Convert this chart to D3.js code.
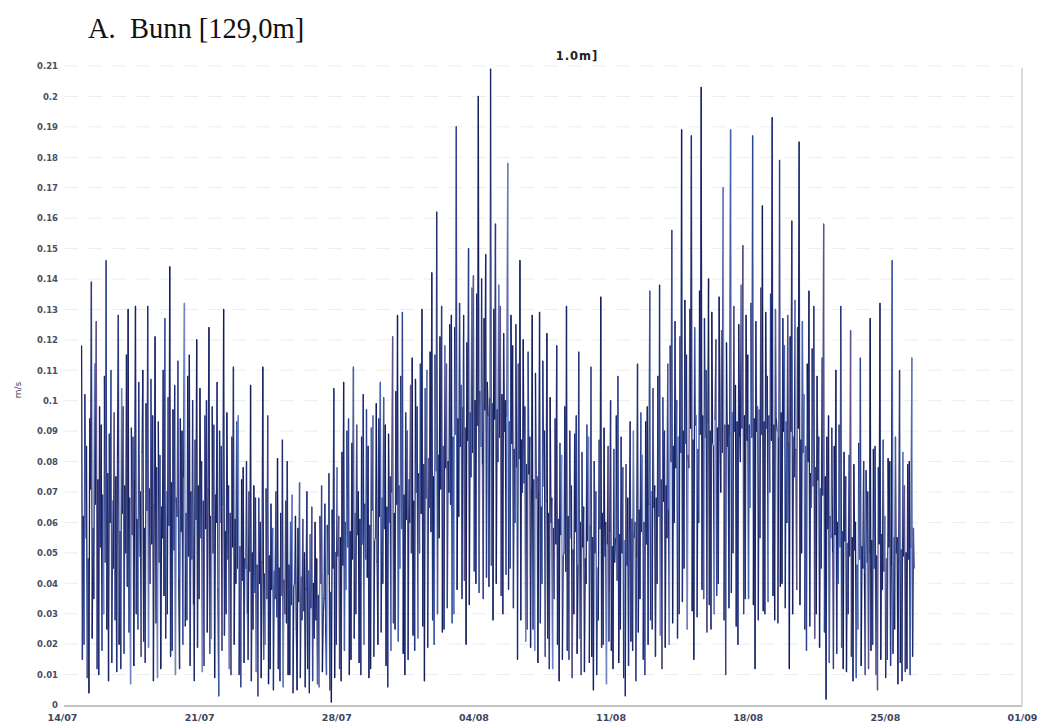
<!DOCTYPE html>
<html>
<head>
<meta charset="utf-8">
<script src="https://cdn.jsdelivr.net/npm/d3@7"></script>
<style>
  html, body { margin: 0; padding: 0; background: #ffffff; }
  svg { display: block; }
</style>
</head>
<body>
<svg id="chart" width="1037" height="723"></svg>
<script>
// ---------------- data ----------------
const chartTitle = "A.  Bunn [129,0m]";
const subTitle = "1.0m]";
const yAxisLabel = "m/s";
const xTickDates = ["2010-07-14","2010-07-21","2010-07-28","2010-08-04","2010-08-11","2010-08-18","2010-08-25","2010-09-01"];
const xTickLabels = ["14/07","21/07","28/07","04/08","11/08","18/08","25/08","01/09"];
const yTickValues = [0,0.01,0.02,0.03,0.04,0.05,0.06,0.07,0.08,0.09,0.1,0.11,0.12,0.13,0.14,0.15,0.16,0.17,0.18,0.19,0.2,0.21];
const yTickLabels = ["0","0.01","0.02","0.03","0.04","0.05","0.06","0.07","0.08","0.09","0.1","0.11","0.12","0.13","0.14","0.15","0.16","0.17","0.18","0.19","0.2","0.21"];
const seriesStart = "2010-07-15T00:00:00";
const stepMinutes = 60;
// current speed (m/s), hourly, 24 values per day
const speedValues = [
  .118,.015,.062,.020,.102,.055,.085,.009,.048,.004,.094,.071,.139,.022,.058,.035,.112,.066,.126,.012,.074,.010,.098,.052, // 15/07
  .092,.018,.069,.030,.108,.047,.146,.025,.076,.008,.089,.060,.110,.014,.067,.045,.096,.028,.075,.011,.082,.128,.020,.057, // 16/07
  .012,.104,.063,.098,.017,.072,.050,.115,.039,.130,.024,.068,.007,.091,.056,.088,.013,.074,.131,.030,.061,.025,.106,.049, // 17/07
  .070,.016,.083,.110,.021,.058,.014,.099,.064,.131,.019,.071,.040,.107,.053,.095,.008,.066,.121,.027,.078,.009,.093,.047, // 18/07
  .082,.012,.065,.055,.110,.036,.127,.022,.070,.030,.101,.059,.144,.016,.073,.018,.097,.051,.105,.010,.068,.062,.113,.041, // 19/07
  .012,.094,.057,.090,.020,.075,.132,.026,.063,.028,.108,.049,.115,.013,.070,.048,.100,.033,.008,.087,.061,.120,.019,.072, // 20/07
  .035,.104,.055,.080,.011,.067,.013,.095,.058,.100,.024,.071,.124,.017,.062,.022,.098,.050,.092,.009,.069,.060,.106,.038, // 21/07
  .003,.090,.060,.085,.018,.066,.130,.023,.057,.030,.096,.048,.072,.012,.063,.010,.088,.052,.111,.020,.061,.040,.093,.045, // 22/07
  .095,.010,.052,.006,.074,.041,.078,.014,.048,.045,.080,.030,.015,.070,.044,.105,.008,.050,.025,.072,.037,.068,.011,.046, // 23/07
  .003,.068,.040,.060,.009,.047,.111,.015,.043,.020,.071,.035,.095,.007,.049,.012,.066,.038,.058,.005,.044,.035,.070,.029, // 24/07
  .081,.012,.045,.008,.063,.036,.087,.006,.041,.030,.067,.027,.080,.010,.046,.010,.060,.033,.069,.004,.039,.040,.062,.025, // 25/07
  .005,.058,.034,.073,.009,.042,.028,.061,.031,.050,.006,.038,.070,.012,.044,.004,.056,.032,.065,.008,.040,.022,.060,.028, // 26/07
  .048,.007,.036,.006,.062,.040,.072,.011,.030,.035,.066,.026,.010,.059,.043,.076,.005,.037,.001,.064,.045,.104,.009,.050, // 27/07
  .020,.078,.049,.062,.012,.055,.008,.083,.046,.106,.018,.060,.038,.090,.052,.094,.010,.057,.015,.086,.048,.111,.022,.063, // 28/07
  .030,.092,.056,.070,.014,.061,.010,.088,.053,.102,.020,.066,.048,.097,.042,.085,.009,.059,.012,.091,.064,.095,.016,.054, // 29/07
  .055,.099,.047,.020,.094,.062,.106,.024,.068,.040,.101,.058,.092,.013,.065,.006,.089,.060,.075,.018,.070,.121,.027,.063, // 30/07
  .025,.103,.066,.128,.021,.072,.045,.108,.058,.129,.017,.069,.010,.096,.061,.090,.015,.074,.060,.105,.050,.114,.023,.067, // 31/07
  .018,.107,.070,.098,.022,.076,.050,.112,.063,.130,.026,.079,.008,.104,.068,.110,.019,.081,.065,.116,.057,.142,.028,.075, // 01/08
  .020,.115,.077,.162,.030,.082,.055,.121,.071,.131,.024,.085,.025,.118,.078,.112,.032,.080,.070,.125,.066,.128,.027,.088, // 02/08
  .030,.124,.089,.190,.038,.094,.062,.132,.085,.105,.035,.098,.128,.041,.091,.020,.119,.087,.150,.033,.096,.075,.137,.083, // 03/08
  .141,.044,.100,.040,.135,.092,.200,.037,.103,.085,.140,.079,.035,.127,.097,.148,.042,.106,.095,.039,.101,.209,.046,.099, // 04/08
  .028,.130,.094,.158,.040,.097,.080,.138,.088,.131,.036,.102,.030,.122,.090,.100,.043,.095,.178,.038,.093,.045,.128,.086, // 05/08
  .118,.032,.084,.060,.125,.078,.015,.112,.081,.146,.028,.087,.070,.120,.073,.098,.021,.079,.025,.116,.076,.088,.019,.071, // 06/08
  .128,.025,.074,.018,.109,.068,.075,.014,.070,.129,.027,.065,.040,.113,.072,.090,.016,.067,.122,.022,.063,.012,.101,.060, // 07/08
  .068,.012,.058,.035,.094,.053,.118,.020,.061,.008,.086,.056,.082,.015,.049,.050,.098,.044,.131,.018,.062,.015,.090,.055, // 08/08
  .072,.009,.051,.030,.089,.057,.095,.017,.046,.116,.022,.060,.010,.083,.052,.065,.011,.048,.040,.092,.054,.088,.014,.059, // 09/08
  .111,.016,.055,.005,.080,.050,.070,.010,.045,.028,.087,.058,.134,.019,.063,.020,.091,.049,.060,.007,.053,.085,.021,.057, // 10/08
  .100,.018,.052,.012,.084,.047,.055,.095,.041,.108,.014,.056,.025,.088,.050,.078,.009,.054,.003,.079,.046,.068,.013,.058, // 11/08
  .093,.021,.061,.018,.090,.055,.060,.008,.049,.112,.024,.064,.035,.096,.057,.082,.015,.060,.010,.093,.053,.098,.020,.066, // 12/08
  .136,.028,.070,.025,.104,.065,.072,.016,.068,.040,.108,.062,.138,.023,.074,.012,.101,.067,.090,.019,.072,.055,.112,.064, // 13/08
  .020,.118,.080,.156,.027,.085,.060,.126,.078,.100,.022,.088,.030,.121,.083,.189,.034,.090,.045,.133,.086,.115,.025,.082, // 14/08
  .078,.130,.091,.187,.031,.087,.015,.124,.092,.095,.029,.084,.060,.136,.089,.203,.038,.095,.035,.127,.088,.110,.024,.093, // 15/08
  .140,.033,.090,.025,.129,.086,.085,.030,.094,.120,.036,.091,.040,.134,.087,.070,.123,.083,.170,.028,.092,.010,.119,.085, // 16/08
  .092,.032,.089,.189,.037,.096,.050,.131,.090,.105,.026,.093,.020,.125,.088,.080,.138,.091,.151,.030,.095,.035,.128,.087, // 17/08
  .115,.035,.092,.065,.132,.088,.187,.033,.094,.012,.126,.090,.098,.028,.097,.055,.137,.089,.164,.031,.093,.030,.129,.091, // 18/08
  .108,.034,.095,.070,.135,.087,.193,.036,.092,.028,.130,.094,.090,.027,.088,.179,.039,.096,.040,.127,.090,.118,.032,.093, // 19/08
  .060,.128,.086,.012,.121,.090,.159,.030,.088,.075,.133,.084,.038,.124,.091,.185,.033,.087,.050,.126,.083,.102,.025,.085, // 20/08
  .018,.112,.080,.136,.026,.076,.065,.117,.072,.131,.022,.078,.030,.108,.074,.088,.019,.071,.045,.114,.069,.158,.024,.075, // 21/08
  .002,.088,.058,.095,.014,.062,.055,.091,.050,.012,.085,.056,.110,.017,.060,.040,.092,.052,.131,.019,.057,.012,.083,.054, // 22/08
  .075,.011,.053,.030,.082,.049,.123,.016,.055,.008,.079,.051,.060,.009,.046,.025,.086,.048,.114,.013,.052,.045,.080,.043, // 23/08
  .010,.077,.047,.070,.012,.050,.127,.018,.054,.020,.084,.045,.085,.010,.049,.005,.078,.053,.132,.015,.056,.038,.087,.044, // 24/08
  .062,.009,.048,.015,.081,.052,.080,.013,.046,.146,.017,.055,.025,.088,.050,.055,.007,.047,.110,.014,.051,.008,.083,.049, // 25/08
  .072,.011,.050,.012,.079,.048,.080,.010,.052,.114,.016,.058,.045                                                         // 26/08
];
const lineColors = ["#1b2563","#293a86","#17205a","#4562b2","#212d72","#7086c6","#1b2766","#62548a","#2c4392","#131d52","#243179"];

// ---------------- drawing ----------------
const svg = d3.select("#chart");
const parse = d3.isoParse;
const t0 = parse(seriesStart);
const points = speedValues.map((v, i) => ({ t: new Date(t0.getTime() + i * stepMinutes * 60 * 1000), v }));

const x = d3.scaleTime()
  .domain([parse(xTickDates[0]), parse(xTickDates[xTickDates.length - 1])])
  .range([62, 1022]);
const y = d3.scaleLinear()
  .domain([0, 0.21])
  .range([705, 66]);

// titles
svg.append("text")
  .attr("x", 88).attr("y", 38)
  .attr("font-family", "'Liberation Serif', 'Times New Roman', serif")
  .attr("font-size", 28.5)
  .attr("fill", "#111")
  .style("white-space", "pre")
  .text(chartTitle);

svg.append("text")
  .attr("x", 577).attr("y", 60)
  .attr("text-anchor", "middle")
  .attr("font-family", "'DejaVu Sans', Verdana, sans-serif")
  .attr("font-weight", "bold")
  .attr("font-size", 11.5)
  .attr("letter-spacing", 1)
  .attr("fill", "#222")
  .text(subTitle);

// grid lines
svg.append("g")
  .selectAll("line")
  .data(yTickValues.slice(1))
  .join("line")
  .attr("x1", 64).attr("x2", 1021)
  .attr("y1", d => y(d)).attr("y2", d => y(d))
  .attr("stroke", "#ededed")
  .attr("stroke-width", 1)
  .attr("stroke-dasharray", "14,10");

// y axis (labels only)
const yAxis = d3.axisLeft(y)
  .tickValues(yTickValues)
  .tickFormat((d, i) => yTickLabels[i])
  .tickSize(0)
  .tickPadding(0);
const yg = svg.append("g").attr("transform", "translate(58,0)").call(yAxis);
yg.select(".domain").remove();
yg.selectAll("text")
  .attr("font-family", "'DejaVu Sans', Verdana, sans-serif")
  .attr("font-weight", "bold")
  .attr("font-size", 8.5)
  .attr("fill", "#4a4e60");

// x axis
const xAxis = d3.axisBottom(x)
  .tickValues(xTickDates.map(parse))
  .tickFormat((d, i) => xTickLabels[i])
  .tickSize(0)
  .tickPadding(8);
const xg = svg.append("g").attr("transform", "translate(0,706)").call(xAxis);
xg.select(".domain").remove();
xg.selectAll("text")
  .attr("font-family", "'DejaVu Sans', Verdana, sans-serif")
  .attr("font-weight", "bold")
  .attr("font-size", 9.5)
  .attr("fill", "#3e4560");

// axis line and right border
svg.append("line")
  .attr("x1", 64).attr("x2", 1022)
  .attr("y1", 706).attr("y2", 706)
  .attr("stroke", "#c4c4c4").attr("stroke-width", 2);
svg.append("line")
  .attr("x1", 1022).attr("x2", 1022)
  .attr("y1", 68).attr("y2", 706)
  .attr("stroke", "#cfcfcf").attr("stroke-width", 1.5);

// y axis title
svg.append("text")
  .attr("transform", "translate(21,390) rotate(-90)")
  .attr("text-anchor", "middle")
  .attr("font-family", "'DejaVu Sans', Verdana, sans-serif")
  .attr("font-size", 9)
  .attr("fill", "#3a3f55")
  .text(yAxisLabel);

// series: drawn as segments so each one can take a shade
const segs = d3.pairs(points);
svg.append("g")
  .selectAll("line")
  .data(segs)
  .join("line")
  .attr("x1", d => x(d[0].t)).attr("y1", d => y(d[0].v))
  .attr("x2", d => x(d[1].t)).attr("y2", d => y(d[1].v))
  .attr("stroke", (d, i) => lineColors[i % lineColors.length])
  .attr("stroke-width", 1.3)
  .attr("stroke-linecap", "round");
</script>
</body>
</html>
